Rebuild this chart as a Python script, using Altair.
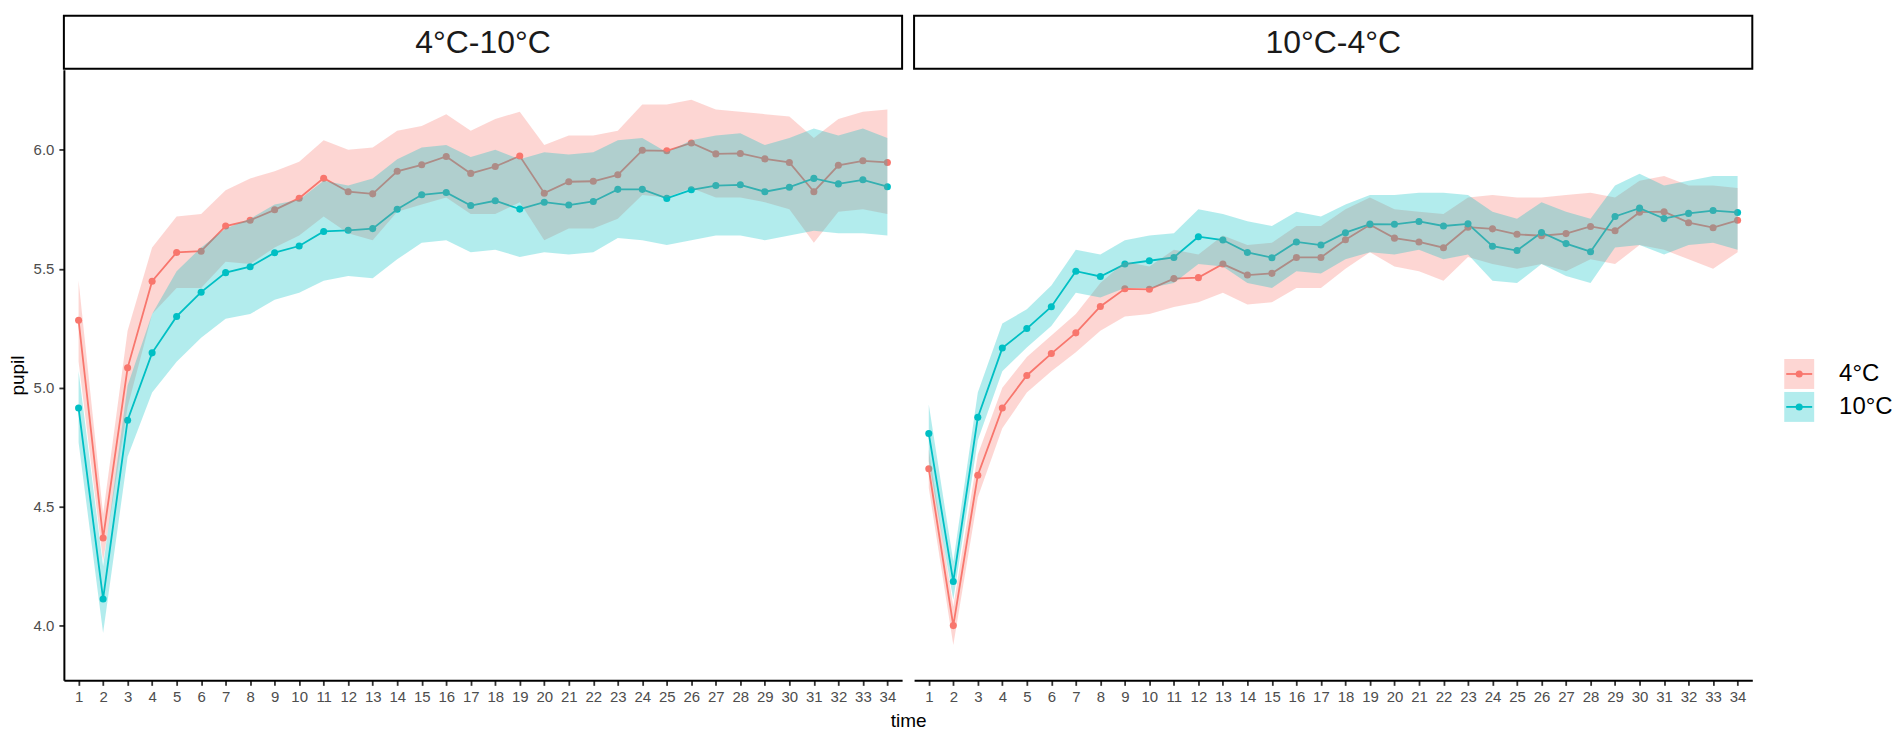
import altair as alt
import pandas as pd

FONT = "Liberation Sans"

panels = ["4°C-10°C", "10°C-4°C"]
temps = ["4°C", "10°C"]
colors = ["#F8766D", "#00BFC4"]
times = list(range(1, 35))
y_ticks = [4.0, 4.5, 5.0, 5.5, 6.0]

# Panel 1: 4°C-10°C
a_red_mean = [5.284, 4.369, 5.084, 5.448, 5.569, 5.574, 5.680, 5.704, 5.748, 5.797, 5.881, 5.824, 5.815, 5.910, 5.937, 5.972, 5.901,
              5.930, 5.974, 5.818, 5.866, 5.868, 5.895, 5.998, 5.996, 6.029, 5.983, 5.985, 5.962, 5.947, 5.824, 5.935, 5.954, 5.947]
a_red_hi = [5.45, 4.47, 5.24, 5.59, 5.72, 5.73, 5.83, 5.88, 5.91, 5.95, 6.04, 6.00, 6.01, 6.08, 6.10, 6.15, 6.08,
            6.13, 6.16, 6.02, 6.06, 6.06, 6.08, 6.19, 6.19, 6.21, 6.17, 6.16, 6.15, 6.14, 6.05, 6.13, 6.16, 6.17]
a_red_lo = [5.11, 4.27, 4.92, 5.31, 5.42, 5.42, 5.53, 5.52, 5.59, 5.64, 5.72, 5.65, 5.62, 5.74, 5.77, 5.80, 5.73,
            5.73, 5.78, 5.62, 5.67, 5.67, 5.71, 5.81, 5.80, 5.84, 5.80, 5.80, 5.78, 5.75, 5.61, 5.74, 5.75, 5.73]
a_teal_mean = [4.915, 4.113, 4.864, 5.147, 5.300, 5.402, 5.484, 5.509, 5.568, 5.596, 5.657, 5.662, 5.669, 5.750, 5.811, 5.821, 5.766,
               5.786, 5.751, 5.780, 5.768, 5.783, 5.834, 5.834, 5.796, 5.832, 5.850, 5.853, 5.824, 5.843, 5.880, 5.857, 5.874, 5.845]
a_teal_hi = [5.07, 4.25, 5.01, 5.31, 5.49, 5.59, 5.67, 5.71, 5.77, 5.79, 5.87, 5.85, 5.88, 5.96, 6.01, 6.02, 5.97,
             6.00, 5.96, 5.99, 5.98, 5.99, 6.04, 6.05, 5.99, 6.04, 6.06, 6.07, 6.02, 6.05, 6.09, 6.06, 6.09, 6.05]
a_teal_lo = [4.77, 3.97, 4.71, 4.98, 5.11, 5.21, 5.29, 5.31, 5.37, 5.40, 5.45, 5.47, 5.46, 5.54, 5.61, 5.62, 5.57,
             5.58, 5.55, 5.57, 5.56, 5.57, 5.63, 5.62, 5.60, 5.62, 5.64, 5.64, 5.62, 5.64, 5.66, 5.65, 5.65, 5.64]

# Panel 2: 10°C-4°C
b_red_mean = [4.660, 4.001, 4.633, 4.915, 5.052, 5.144, 5.231, 5.342, 5.416, 5.414, 5.459, 5.463, 5.520, 5.474, 5.481, 5.548, 5.548,
              5.622, 5.685, 5.629, 5.613, 5.589, 5.675, 5.668, 5.645, 5.639, 5.648, 5.678, 5.660, 5.738, 5.740, 5.694, 5.673, 5.704]
b_red_hi = [4.74, 4.08, 4.72, 5.00, 5.13, 5.22, 5.31, 5.44, 5.53, 5.51, 5.58, 5.56, 5.64, 5.60, 5.61, 5.68, 5.68,
            5.75, 5.80, 5.75, 5.74, 5.73, 5.80, 5.81, 5.80, 5.80, 5.81, 5.82, 5.80, 5.87, 5.89, 5.85, 5.85, 5.84]
b_red_lo = [4.58, 3.92, 4.54, 4.83, 4.98, 5.07, 5.15, 5.24, 5.30, 5.31, 5.34, 5.36, 5.40, 5.35, 5.36, 5.42, 5.42,
            5.50, 5.57, 5.51, 5.49, 5.45, 5.55, 5.52, 5.50, 5.52, 5.49, 5.54, 5.52, 5.60, 5.58, 5.54, 5.50, 5.57]
b_teal_mean = [4.808, 4.186, 4.876, 5.167, 5.249, 5.341, 5.490, 5.468, 5.520, 5.534, 5.548, 5.635, 5.621, 5.569, 5.547, 5.613, 5.600,
               5.652, 5.688, 5.687, 5.699, 5.680, 5.689, 5.595, 5.577, 5.653, 5.606, 5.572, 5.720, 5.755, 5.711, 5.733, 5.745, 5.737]
b_teal_hi = [4.93, 4.27, 4.98, 5.27, 5.33, 5.43, 5.58, 5.56, 5.62, 5.64, 5.65, 5.75, 5.73, 5.70, 5.68, 5.74, 5.72,
             5.77, 5.81, 5.81, 5.82, 5.82, 5.81, 5.74, 5.71, 5.78, 5.74, 5.71, 5.85, 5.90, 5.85, 5.87, 5.89, 5.89]
b_teal_lo = [4.69, 4.11, 4.78, 5.07, 5.17, 5.26, 5.40, 5.38, 5.42, 5.42, 5.44, 5.52, 5.51, 5.44, 5.42, 5.49, 5.48,
             5.54, 5.57, 5.56, 5.58, 5.54, 5.56, 5.45, 5.44, 5.52, 5.47, 5.44, 5.59, 5.60, 5.56, 5.60, 5.61, 5.58]

series = [
    (panels[0], temps[0], a_red_mean, a_red_lo, a_red_hi),
    (panels[0], temps[1], a_teal_mean, a_teal_lo, a_teal_hi),
    (panels[1], temps[0], b_red_mean, b_red_lo, b_red_hi),
    (panels[1], temps[1], b_teal_mean, b_teal_lo, b_teal_hi),
]
rows = []
for p, t, m, lo, hi in series:
    for i, tm in enumerate(times):
        rows.append({"panel": p, "temp": t, "time": tm, "pupil": m[i], "lo": lo[i], "hi": hi[i]})
df = pd.DataFrame(rows)

W, H, SH = 840, 612, 55
cscale = alt.Scale(domain=temps, range=colors)
xscale = alt.Scale(domain=[0.4, 34.6], nice=False, zero=False)
yscale = alt.Scale(domain=[3.771, 6.337], nice=False, zero=False)

axis_common = dict(
    labelFont=FONT, labelFontSize=15, labelColor="#4D4D4D",
    titleFont=FONT, titleFontSize=19, titleColor="black", titleFontWeight="normal",
    domainColor="black", domainWidth=2, tickColor="#333333", tickWidth=1.8, tickSize=5,
    grid=False,
)


def panel_chart(name, first):
    d = df[df["panel"] == name]
    if first:
        xaxis = alt.Axis(values=times, format="d", title="time", labelAngle=0, labelPadding=4,
                         labelOverlap=False, labelFlush=False,
                         titleX=846, titleY=40, titleAlign="center", titleBaseline="middle",
                         **axis_common)
        yaxis = alt.Axis(values=y_ticks, format=".1f", title="pupil", labelPadding=5, titlePadding=6,
                         **axis_common)
    else:
        xaxis = alt.Axis(values=times, format="d", title=None, labelAngle=0, labelPadding=4,
                         labelOverlap=False, labelFlush=False, **axis_common)
        yaxis = None
    x = alt.X("time:Q", scale=xscale, axis=xaxis)
    color = alt.Color("temp:N", scale=cscale, legend=None)
    base = alt.Chart(d)
    line = base.mark_line(strokeWidth=1.8).encode(
        x=x, y=alt.Y("pupil:Q", scale=yscale, axis=yaxis), color=color)
    pts = base.mark_circle(size=50, opacity=1).encode(
        x=x, y=alt.Y("pupil:Q", scale=yscale, axis=yaxis), color=color)
    band = base.mark_area(opacity=0.3).encode(
        x=x, y=alt.Y("lo:Q", scale=yscale, axis=yaxis), y2="hi:Q", color=color)
    return alt.layer(line, pts, band).properties(width=W, height=H)


def strip_chart(name):
    sd = pd.DataFrame({"label": [name]})
    box = alt.Chart(sd).mark_rect(fill="white", stroke="black", strokeWidth=2).encode(
        x=alt.value(0), x2=alt.value(W), y=alt.value(1), y2=alt.value(54))
    txt = alt.Chart(sd).mark_text(font=FONT, fontSize=32, color="#1A1A1A", baseline="alphabetic",
                                  align="center").encode(
        x=alt.value(W / 2), y=alt.value(38.7), text="label:N")
    return alt.layer(box, txt).properties(width=W, height=SH)


blank = alt.Chart(pd.DataFrame({"a": [""]})).mark_text().encode(
    text="a:N", x=alt.value(0), y=alt.value(0)).properties(width=130, height=SH)

ld = pd.DataFrame({"temp": temps})
ly = alt.Y("temp:N", scale=alt.Scale(domain=temps, range=[305, 338], padding=0), axis=None)
lcolor = alt.Color("temp:N", scale=cscale, legend=None)
lbase = alt.Chart(ld)
lsq = lbase.mark_square(size=900, opacity=0.3).encode(x=alt.value(35), y=ly, color=lcolor)
lln = lbase.mark_point(shape="M-1,0L1,0", size=676, strokeWidth=1.8, filled=False, opacity=1).encode(
    x=alt.value(35), y=ly, color=lcolor)
ldot = lbase.mark_circle(size=50, opacity=1).encode(x=alt.value(35), y=ly, color=lcolor)
ltxt = lbase.mark_text(align="left", baseline="middle", fontSize=24, font=FONT, color="black").encode(
    x=alt.value(75), y=ly, text="temp:N")
legend = alt.layer(lsq, lln, ldot, ltxt).properties(width=130, height=H)

chart = alt.concat(
    strip_chart(panels[0]), strip_chart(panels[1]), blank,
    panel_chart(panels[0], True), panel_chart(panels[1], False), legend,
    columns=3, spacing={"row": 0, "column": 12}, bounds="flush",
).properties(padding=0, background="white").configure_view(stroke=None)

chart.save("out.html", embed_options={"renderer": "svg", "actions": False})
